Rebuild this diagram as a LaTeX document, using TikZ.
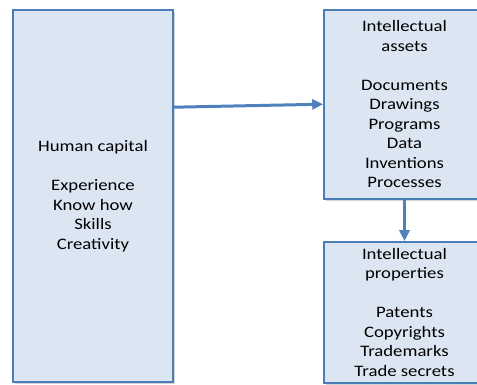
\documentclass[tikz,border=0pt]{standalone}
\usepackage{fontspec}
\setmainfont[FakeStretch=1.17]{Carlito}
\usetikzlibrary{shadows,calc,arrows.meta}
\definecolor{boxfill}{HTML}{DCE6F2}
\definecolor{boxline}{HTML}{4A7EBB}
\definecolor{arrowblue}{HTML}{4F81BD}
\begin{document}
\begin{tikzpicture}[x=1pt,y=-1pt,
  box/.style={draw=boxline, line width=1.6pt, fill=boxfill, align=center,
    inner sep=0pt, font=\fontsize{16pt}{19.5pt}\selectfont, text=black,
    drop shadow={shadow xshift=2pt, shadow yshift=-2pt, opacity=0.35}},
  conn/.style={draw=arrowblue, line width=3pt,
    -{Triangle[length=11pt,width=10pt]}}]
\useasboundingbox (0,0) rectangle (477,385);
\clip (0,0) rectangle (477,385);
\node[box, minimum width=160pt, minimum height=372pt] (hc) at (93,196)
  {Human capital\\[19.5pt]Experience\\Know how\\Skills\\Creativity};
\node[box, minimum width=161pt, minimum height=189pt] (ia) at (404.5,104.5)
  {Intellectual\\assets\\[19.5pt]Documents\\Drawings\\Programs\\Data\\Inventions\\Processes};
\node[box, minimum width=161pt, minimum height=141pt] (ip) at (404.5,312.5)
  {Intellectual\\properties\\[19.5pt]Patents\\Copyrights\\Trademarks\\Trade secrets};
\draw[conn] ($(hc.north east)+(0,98)$) -- ($(ia.north west)+(0,95)$);
\draw[conn] (ia.south) -- (ip.north);
\end{tikzpicture}
\end{document}
